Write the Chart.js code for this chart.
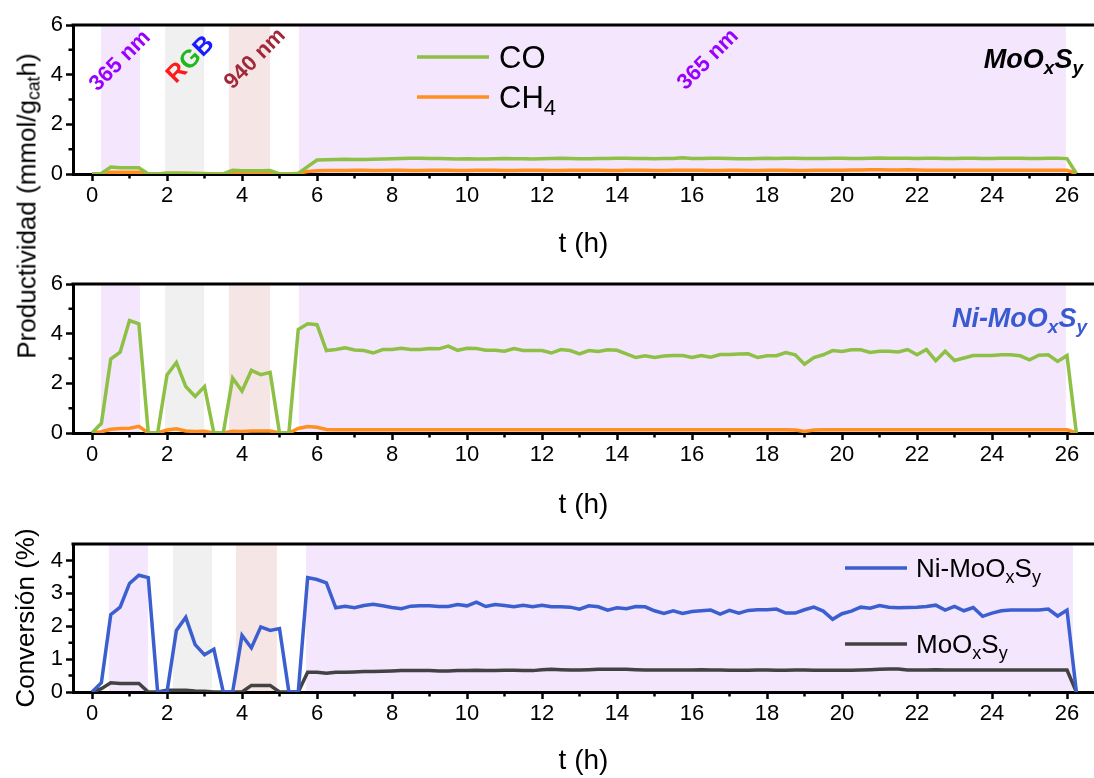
<!DOCTYPE html>
<html>
<head>
<meta charset="utf-8">
<script src="https://cdn.jsdelivr.net/npm/chart.js@4"></script>
<style>
  html, body { margin: 0; padding: 0; background: #fff; }
  #wrap { position: relative; width: 1094px; height: 778px; overflow: hidden; font-family: Arial, "Liberation Sans", sans-serif; }
  canvas { position: absolute; left: 0; }
  .ytitle { position: absolute; white-space: nowrap; font-size: 26px; color: #000; transform: translate(-50%, -50%) rotate(-90deg); }
  .ytitle sub { font-size: 0.68em; vertical-align: -0.25em; line-height: 0; }
</style>
</head>
<body>
<div id="wrap">
  <canvas id="panelMo" width="1094" height="262" style="top:0px"></canvas>
  <canvas id="panelNi" width="1094" height="260" style="top:262px"></canvas>
  <canvas id="panelConv" width="1094" height="256" style="top:522px"></canvas>
  <div class="ytitle" style="left:27px; top:206px">Productividad (mmol/g<sub>cat</sub>h)</div>
</div>
<script>
// time on stream (h)
const hours = [0, 0.25, 0.5, 0.75, 1, 1.25, 1.5, 1.75, 2, 2.25, 2.5, 2.75, 3, 3.25, 3.5, 3.75,
  4, 4.25, 4.5, 4.75, 5, 5.25, 5.5, 5.75, 6, 6.25, 6.5, 6.75, 7, 7.25, 7.5, 7.75,
  8, 8.25, 8.5, 8.75, 9, 9.25, 9.5, 9.75, 10, 10.25, 10.5, 10.75, 11, 11.25, 11.5, 11.75,
  12, 12.25, 12.5, 12.75, 13, 13.25, 13.5, 13.75, 14, 14.25, 14.5, 14.75, 15, 15.25, 15.5, 15.75,
  16, 16.25, 16.5, 16.75, 17, 17.25, 17.5, 17.75, 18, 18.25, 18.5, 18.75, 19, 19.25, 19.5, 19.75,
  20, 20.25, 20.5, 20.75, 21, 21.25, 21.5, 21.75, 22, 22.25, 22.5, 22.75, 23, 23.25, 23.5, 23.75,
  24, 24.25, 24.5, 24.75, 25, 25.25, 25.5, 25.75, 26, 26.25];

// MoOxSy productivity (mmol/gcat h)
const moCO = [0, 0.02, 0.28, 0.25, 0.25, 0.25, 0, 0, 0.03, 0.03, 0.02, 0.02, 0.01, 0, 0, 0.15,
  0.13, 0.13, 0.13, 0.14, 0, 0, 0.02, 0.30, 0.56, 0.57, 0.58, 0.59, 0.58, 0.58, 0.59, 0.60,
  0.61, 0.62, 0.63, 0.63, 0.62, 0.62, 0.61, 0.60, 0.61, 0.60, 0.60, 0.61, 0.62, 0.61, 0.61, 0.60,
  0.61, 0.62, 0.63, 0.62, 0.61, 0.61, 0.62, 0.62, 0.63, 0.63, 0.62, 0.62, 0.61, 0.62, 0.62, 0.65,
  0.62, 0.62, 0.63, 0.63, 0.62, 0.61, 0.61, 0.62, 0.63, 0.62, 0.63, 0.63, 0.62, 0.62, 0.62, 0.63,
  0.63, 0.62, 0.62, 0.63, 0.64, 0.63, 0.63, 0.63, 0.62, 0.63, 0.63, 0.62, 0.62, 0.63, 0.63, 0.62,
  0.62, 0.63, 0.63, 0.63, 0.62, 0.62, 0.63, 0.63, 0.62, 0.02];
const moCH4 = [0, 0.02, 0.07, 0.07, 0.07, 0.07, 0, 0, 0.03, 0.03, 0.03, 0.02, 0.02, 0, 0, 0.06,
  0.06, 0.06, 0.06, 0.06, 0, 0, 0.03, 0.10, 0.13, 0.14, 0.14, 0.14, 0.15, 0.15, 0.14, 0.14,
  0.15, 0.15, 0.14, 0.14, 0.15, 0.15, 0.15, 0.14, 0.14, 0.15, 0.15, 0.15, 0.14, 0.14, 0.15, 0.15,
  0.15, 0.14, 0.14, 0.15, 0.15, 0.15, 0.15, 0.14, 0.14, 0.15, 0.15, 0.15, 0.14, 0.14, 0.15, 0.15,
  0.15, 0.15, 0.14, 0.14, 0.15, 0.15, 0.14, 0.14, 0.15, 0.15, 0.15, 0.14, 0.14, 0.15, 0.15, 0.15,
  0.15, 0.16, 0.16, 0.17, 0.17, 0.16, 0.16, 0.17, 0.16, 0.15, 0.15, 0.15, 0.15, 0.15, 0.15, 0.15,
  0.15, 0.15, 0.15, 0.15, 0.15, 0.15, 0.15, 0.15, 0.15, 0.02];

// Ni-MoOxSy productivity (mmol/gcat h)
const niCO = [0, 0.39, 2.98, 3.25, 4.53, 4.40, 0, 0, 2.34, 2.84, 1.87, 1.47, 1.87, 0, 0, 2.21,
  1.69, 2.52, 2.35, 2.44, 0, 0, 4.17, 4.40, 4.36, 3.32, 3.36, 3.43, 3.34, 3.32, 3.22, 3.36,
  3.36, 3.41, 3.36, 3.36, 3.40, 3.39, 3.50, 3.33, 3.41, 3.40, 3.33, 3.33, 3.29, 3.40, 3.32, 3.32,
  3.32, 3.22, 3.36, 3.32, 3.19, 3.32, 3.28, 3.35, 3.33, 3.19, 3.04, 3.11, 3.04, 3.10, 3.12, 3.12,
  3.04, 3.12, 3.05, 3.16, 3.16, 3.18, 3.19, 3.04, 3.11, 3.11, 3.24, 3.15, 2.77, 3.04, 3.15, 3.32,
  3.28, 3.35, 3.35, 3.24, 3.29, 3.29, 3.26, 3.36, 3.15, 3.36, 2.91, 3.29, 2.92, 3.02, 3.12, 3.12,
  3.12, 3.15, 3.15, 3.11, 2.95, 3.13, 3.15, 2.88, 3.12, 0];
const niCH4 = [0, 0.05, 0.15, 0.18, 0.19, 0.27, 0, 0, 0.12, 0.17, 0.08, 0.06, 0.07, 0, 0, 0.07,
  0.06, 0.08, 0.08, 0.08, 0, 0, 0.18, 0.26, 0.23, 0.14, 0.13, 0.13, 0.13, 0.13, 0.13, 0.13,
  0.13, 0.13, 0.13, 0.13, 0.13, 0.13, 0.13, 0.13, 0.13, 0.13, 0.13, 0.13, 0.13, 0.13, 0.13, 0.13,
  0.13, 0.13, 0.13, 0.13, 0.13, 0.13, 0.13, 0.13, 0.13, 0.13, 0.13, 0.13, 0.13, 0.13, 0.13, 0.13,
  0.13, 0.13, 0.13, 0.13, 0.13, 0.13, 0.13, 0.13, 0.13, 0.13, 0.13, 0.12, 0.06, 0.12, 0.13, 0.13,
  0.13, 0.13, 0.13, 0.13, 0.13, 0.13, 0.13, 0.13, 0.13, 0.13, 0.13, 0.13, 0.13, 0.13, 0.13, 0.13,
  0.13, 0.13, 0.13, 0.13, 0.13, 0.13, 0.13, 0.13, 0.13, 0];

// CO2 conversion (%)
const niConv = [0, 0.28, 2.35, 2.58, 3.30, 3.55, 3.48, 0, 0, 1.87, 2.27, 1.44, 1.13, 1.30, 0, 0,
  1.72, 1.34, 1.98, 1.87, 1.93, 0, 0, 3.48, 3.42, 3.32, 2.56, 2.61, 2.56, 2.63, 2.67, 2.62,
  2.57, 2.53, 2.61, 2.62, 2.62, 2.60, 2.60, 2.66, 2.62, 2.73, 2.60, 2.66, 2.63, 2.59, 2.64, 2.59,
  2.64, 2.59, 2.59, 2.58, 2.52, 2.62, 2.59, 2.49, 2.56, 2.53, 2.60, 2.59, 2.47, 2.39, 2.47, 2.39,
  2.45, 2.47, 2.49, 2.37, 2.48, 2.40, 2.48, 2.50, 2.50, 2.52, 2.40, 2.40, 2.50, 2.58, 2.46, 2.21,
  2.38, 2.46, 2.58, 2.55, 2.63, 2.58, 2.56, 2.57, 2.58, 2.60, 2.64, 2.49, 2.60, 2.47, 2.57, 2.30,
  2.40, 2.47, 2.49, 2.49, 2.49, 2.49, 2.52, 2.31, 2.49, 0];
const moConv = [0, 0.10, 0.28, 0.26, 0.26, 0.26, 0, 0, 0.05, 0.05, 0.05, 0.03, 0.02, 0, 0, 0,
  0, 0.20, 0.20, 0.20, 0, 0, 0, 0.60, 0.60, 0.57, 0.60, 0.60, 0.61, 0.62, 0.62, 0.63,
  0.64, 0.65, 0.65, 0.65, 0.65, 0.64, 0.64, 0.65, 0.65, 0.66, 0.65, 0.65, 0.66, 0.66, 0.65, 0.65,
  0.68, 0.69, 0.68, 0.67, 0.67, 0.68, 0.69, 0.69, 0.69, 0.69, 0.68, 0.67, 0.67, 0.67, 0.67, 0.67,
  0.67, 0.68, 0.67, 0.67, 0.66, 0.66, 0.66, 0.67, 0.67, 0.66, 0.66, 0.67, 0.67, 0.66, 0.66, 0.66,
  0.66, 0.66, 0.67, 0.68, 0.69, 0.70, 0.70, 0.67, 0.67, 0.67, 0.68, 0.67, 0.67, 0.67, 0.67, 0.67,
  0.67, 0.67, 0.67, 0.67, 0.67, 0.67, 0.67, 0.67, 0.67, 0];

// illumination periods (h): 365 nm, RGB, 940 nm, 365 nm
const lampSpans = [[0.24, 1.28], [1.95, 2.99], [3.65, 4.75], [5.52, 25.97]];
const lampSpansConv = [[0.45, 1.49], [2.16, 3.2], [3.84, 4.93], [5.71, 26.16]];
const lampNames = ['365 nm', 'RGB', '940 nm', '365 nm'];

const hourTicks = [0, 2, 4, 6, 8, 10, 12, 14, 16, 18, 20, 22, 24, 26];
const hourMinor = [1, 3, 5, 7, 9, 11, 13, 15, 17, 19, 21, 23, 25];
const prodTicks = [0, 2, 4, 6];
const prodMinor = [1, 3, 5];
const convTicks = [0, 1, 2, 3, 4];
const convMinor = [0.5, 1.5, 2.5, 3.5];

const family = 'Arial, "Liberation Sans", sans-serif';
Chart.defaults.font.family = family;
Chart.defaults.color = '#000';
Chart.defaults.animation = false;

const lampColors = ['#f3e6fd', '#f0f0f0', '#f6e5e5', '#f3e6fd'];
const purple = '#9900ff';

// text with single-character subscripts written as "_x"
function drawRich(ctx, text, x, y, size, style, color, align) {
  const parts = [];
  for (let i = 0; i < text.length; i++) {
    if (text[i] === '_') parts.push({s: text[++i], sub: true});
    else if (parts.length && !parts[parts.length - 1].sub) parts[parts.length - 1].s += text[i];
    else parts.push({s: text[i], sub: false});
  }
  const fontFor = p => `${style} ${p.sub ? Math.round(size * 0.7) : size}px ${family}`.trim();
  ctx.save();
  ctx.fillStyle = color;
  ctx.textBaseline = 'alphabetic';
  let total = 0;
  parts.forEach(p => { ctx.font = fontFor(p); p.w = ctx.measureText(p.s).width; total += p.w; });
  let cx = align === 'right' ? x - total : x;
  parts.forEach(p => {
    ctx.font = fontFor(p);
    ctx.fillText(p.s, cx, p.sub ? y + size * 0.22 : y);
    cx += p.w;
  });
  ctx.restore();
}

const bandPlugin = {
  id: 'bands',
  beforeDraw(chart, args, opts) {
    const {ctx, chartArea: a, scales: {x}} = chart;
    ctx.save();
    opts.spans.forEach((s, i) => {
      const x0 = Math.max(x.getPixelForValue(s[0]), a.left);
      const x1 = Math.min(x.getPixelForValue(s[1]), a.right);
      ctx.fillStyle = lampColors[i];
      ctx.fillRect(x0, a.top, x1 - x0, a.bottom - a.top);
    });
    ctx.restore();
  }
};

const framePlugin = {
  id: 'frame',
  afterDraw(chart, args, opts) {
    const {ctx, chartArea: a, scales: {x, y}} = chart;
    ctx.save();
    ctx.strokeStyle = '#000';
    ctx.lineWidth = 3;
    ctx.beginPath();
    ctx.moveTo(a.left - 1.5, a.top);
    ctx.lineTo(a.right, a.top);
    ctx.stroke();
    ctx.lineWidth = 2.5;
    ctx.beginPath();
    hourMinor.forEach(v => {
      const px = x.getPixelForValue(v);
      ctx.moveTo(px, a.bottom);
      ctx.lineTo(px, a.bottom + 4.5);
    });
    opts.yMinor.forEach(v => {
      const py = y.getPixelForValue(v);
      ctx.moveTo(a.left, py);
      ctx.lineTo(a.left - 4.5, py);
    });
    ctx.stroke();
    ctx.restore();
  }
};

const tagPlugin = {
  id: 'tags',
  afterDatasetsDraw(chart, args, opts) {
    const {ctx, chartArea: a, scales: {x, y}} = chart;
    (opts.lamps || []).forEach(l => {
      ctx.save();
      ctx.translate(x.getPixelForValue(l.t), y.getPixelForValue(l.v));
      ctx.rotate(-Math.PI / 4);
      ctx.font = `bold ${l.size || 22}px ${family}`;
      ctx.textBaseline = 'middle';
      let cx = -ctx.measureText(l.text).width / 2;
      [...l.text].forEach((ch, k) => {
        ctx.fillStyle = Array.isArray(l.color) ? l.color[k] : l.color;
        ctx.fillText(ch, cx, 0);
        cx += ctx.measureText(ch).width;
      });
      ctx.restore();
    });
    if (opts.sample) {
      const s = opts.sample;
      drawRich(ctx, s.text, a.right + s.dx, a.top + s.dy, 27, 'italic bold', s.color, 'right');
    }
    if (opts.legend) {
      const L = opts.legend;
      chart.data.datasets.forEach((ds, i) => {
        const yy = a.top + L.rows[i];
        ctx.save();
        ctx.strokeStyle = ds.borderColor;
        ctx.lineWidth = ds.borderWidth;
        ctx.beginPath();
        ctx.moveTo(a.left + L.x0, yy);
        ctx.lineTo(a.left + L.x1, yy);
        ctx.stroke();
        ctx.restore();
        drawRich(ctx, ds.label, a.left + L.tx, yy + 0.36 * L.size, L.size, '', '#000', 'left');
      });
    }
  }
};

function series(label, values, color) {
  return {
    label,
    data: hours.map((h, i) => ({x: h, y: values[i]})),
    borderColor: color,
    borderWidth: 3.5,
    pointRadius: 0,
    tension: 0,
    fill: false
  };
}

function makePanel(id, datasets, cfg) {
  const tickFont = {size: 22, family};
  return new Chart(document.getElementById(id), {
    type: 'line',
    data: {datasets},
    options: {
      responsive: false,
      layout: {padding: {top: cfg.padTop, left: 0, right: 0, bottom: 0}},
      plugins: {
        legend: {display: false},
        tooltip: {enabled: false},
        bands: {spans: cfg.spans},
        frame: {yMinor: cfg.yMinor},
        tags: cfg.tags
      },
      scales: {
        x: {
          type: 'linear',
          min: -0.507,
          max: 26.72,
          afterBuildTicks: s => { s.ticks = hourTicks.map(v => ({value: v})); },
          afterFit: s => { s.height = cfg.xHeight; },
          grid: {drawOnChartArea: false, tickLength: 7, tickWidth: 2.5, tickColor: '#000'},
          border: {color: '#000', width: 3},
          ticks: {color: '#000', font: tickFont, padding: 2, maxRotation: 0, autoSkip: false},
          title: {display: true, text: 't (h)', color: '#000', font: {size: 28, family}, padding: {top: 0, bottom: cfg.titlePad}}
        },
        y: {
          min: 0,
          max: cfg.yMax,
          afterBuildTicks: s => { s.ticks = cfg.yTicks.map(v => ({value: v})); },
          afterFit: s => { s.width = 73; },
          grid: {drawOnChartArea: false, tickLength: 7, tickWidth: 2.5, tickColor: '#000'},
          border: {color: '#000', width: 3},
          ticks: {color: '#000', font: tickFont, padding: 3},
          title: cfg.yTitle
        }
      }
    },
    plugins: [bandPlugin, framePlugin, tagPlugin]
  });
}

makePanel('panelMo', [series('CO', moCO, '#8dc044'), series('CH_4', moCH4, '#ff8f1f')], {
  padTop: 25, xHeight: 88, titlePad: 1, yMax: 6, yTicks: prodTicks, yMinor: prodMinor,
  spans: lampSpans, yTitle: {display: false},
  tags: {
    lamps: [
      {text: lampNames[0], t: 0.75, v: 4.55, color: purple},
      {text: lampNames[1], t: 2.63, v: 4.6, color: ['#ff1a1a', '#1fb81f', '#1a1aff'], size: 25},
      {text: lampNames[2], t: 4.35, v: 4.63, color: '#a0283a'},
      {text: lampNames[3], t: 16.43, v: 4.6, color: purple}
    ],
    sample: {text: 'MoO_xS_y', dx: -11, dy: 43, color: '#000'},
    legend: {x0: 344, x1: 416, tx: 426, rows: [32, 72], size: 31}
  }
});

makePanel('panelNi', [series('CO', niCO, '#8dc044'), series('CH_4', niCH4, '#ff8f1f')], {
  padTop: 22, xHeight: 89, titlePad: 0, yMax: 6, yTicks: prodTicks, yMinor: prodMinor,
  spans: lampSpans, yTitle: {display: false},
  tags: {
    sample: {text: 'Ni-MoO_xS_y', dx: -7, dy: 43, color: '#3a5bd0'}
  }
});

makePanel('panelConv', [series('Ni-MoO_xS_y', niConv, '#3b5fcf'), series('MoO_xS_y', moConv, '#424242')], {
  padTop: 22, xHeight: 86, titlePad: 0, yMax: 4.5, yTicks: convTicks, yMinor: convMinor,
  spans: lampSpansConv,
  yTitle: {display: true, text: 'Conversión (%)', color: '#000', font: {size: 26, family}, padding: {top: 11, bottom: 0}},
  tags: {
    legend: {x0: 772, x1: 834, tx: 843, rows: [24, 100], size: 26}
  }
});
</script>
</body>
</html>
